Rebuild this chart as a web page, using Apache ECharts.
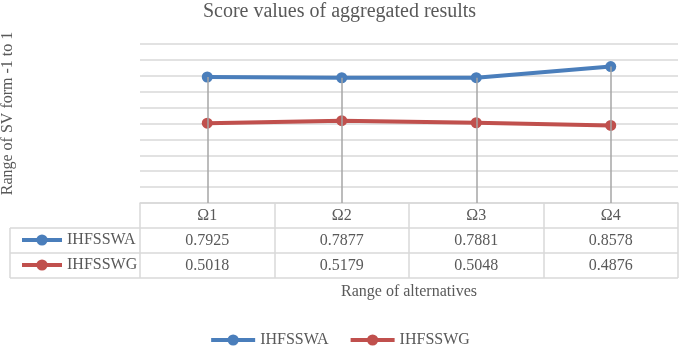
<!DOCTYPE html>
<html>
<head>
<meta charset="utf-8">
<script src="https://cdn.jsdelivr.net/npm/echarts@6/dist/echarts.min.js"></script>
<style>
  html, body { margin: 0; padding: 0; background: #fff; }
  #chart { width: 679px; height: 347px; }
</style>
</head>
<body>
<div id="chart"></div>
<script>
const categories = ['Ω1', 'Ω2', 'Ω3', 'Ω4'];
const seriesNames = ['IHFSSWA', 'IHFSSWG'];
const ihfsswa = [0.7925, 0.7877, 0.7881, 0.8578];
const ihfsswg = [0.5018, 0.5179, 0.5048, 0.4876];

const font = '"Liberation Serif", "Times New Roman", serif';
const textColor = '#595959';
const gridColor = '#d9d9d9';

const chart = echarts.init(document.getElementById('chart'));

// table geometry under the plot area
const gridLeft = 140, gridRight = 678, axisY = 203, rowH = 25;

const tableLines = [];
for (let r = 1; r <= 3; r++) {
  const y = axisY + rowH * r;
  tableLines.push({ type: 'line', shape: { x1: 10, y1: y, x2: gridRight, y2: y }, style: { stroke: gridColor, lineWidth: 1.5 }, silent: true });
}
tableLines.push({ type: 'line', shape: { x1: 10, y1: axisY + rowH, x2: 10, y2: axisY + rowH * 3 }, style: { stroke: gridColor, lineWidth: 1.5 }, silent: true });

const legendText = { fontFamily: font, fontSize: 16, color: textColor };

const option = {
  backgroundColor: '#fff',
  animation: false,
  textStyle: { fontFamily: font, color: textColor },
  title: {
    text: 'Score values of aggregated results',
    left: 'center',
    top: -3,
    textStyle: { fontFamily: font, fontSize: 20, fontWeight: 'normal', color: textColor }
  },
  legend: [
    {
      data: seriesNames,
      left: 'center',
      top: 327,
      itemWidth: 44,
      itemHeight: 14,
      itemGap: 20,
      lineStyle: { width: 4 },
      textStyle: legendText
    },
    {
      data: seriesNames,
      orient: 'vertical',
      left: 15,
      top: 227,
      itemWidth: 40,
      itemHeight: 14,
      itemGap: 9,
      lineStyle: { width: 4 },
      textStyle: legendText
    }
  ],
  grid: {
    left: gridLeft, right: 679 - gridRight, top: 44, bottom: 347 - axisY,
    outerBoundsMode: 'none'
  },
  xAxis: {
    type: 'category',
    data: categories,
    boundaryGap: true,
    name: 'Range of alternatives',
    nameLocation: 'middle',
    nameGap: 81,
    nameTextStyle: { fontFamily: font, fontSize: 16, color: textColor },
    axisLine: { show: true, lineStyle: { color: gridColor, width: 1.5 } },
    axisTick: { show: true, length: rowH * 3, lineStyle: { color: gridColor, width: 1.5 } },
    axisLabel: {
      margin: 0,
      interval: 0,
      fontFamily: font,
      fontSize: 16,
      color: textColor,
      formatter: (v, i) => `{h|${v}}\n{v|${ihfsswa[i]}}\n{v|${ihfsswg[i]}}`,
      rich: {
        h: { fontFamily: font, fontSize: 16, color: textColor, lineHeight: rowH, height: rowH },
        v: { fontFamily: font, fontSize: 16, color: textColor, lineHeight: rowH, height: rowH }
      }
    }
  },
  yAxis: {
    type: 'value',
    min: 0,
    max: 1,
    interval: 0.1,
    name: 'Range of SV form -1 to 1',
    nameLocation: 'middle',
    nameGap: 124,
    nameTextStyle: { fontFamily: font, fontSize: 16, color: textColor, padding: [0, 0, 0, 20] },
    axisLabel: { show: false },
    axisLine: { show: false },
    axisTick: { show: false },
    splitLine: { lineStyle: { color: gridColor, width: 1.5 } }
  },
  series: [
    {
      name: seriesNames[0],
      type: 'line',
      data: ihfsswa,
      symbol: 'circle',
      symbolSize: 11,
      color: '#4a7ebb',
      lineStyle: { width: 4, color: '#4a7ebb' },
      z: 3,
      markLine: {
        silent: true,
        symbol: 'none',
        label: { show: false },
        lineStyle: { color: '#a6a6a6', width: 1.5, type: 'solid' },
        data: categories.map((c, i) => [
          { coord: [i, Math.max(ihfsswa[i], ihfsswg[i])] },
          { coord: [i, 0] }
        ])
      }
    },
    {
      name: seriesNames[1],
      type: 'line',
      data: ihfsswg,
      symbol: 'circle',
      symbolSize: 11,
      color: '#c0504d',
      lineStyle: { width: 4, color: '#c0504d' },
      z: 4
    }
  ],
  graphic: tableLines
};

chart.setOption(option);
</script>
</body>
</html>
